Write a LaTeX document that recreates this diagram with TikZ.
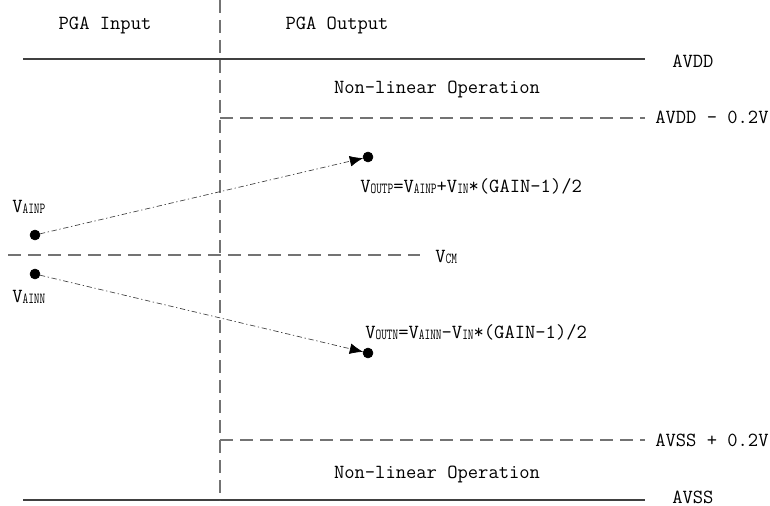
\documentclass[tikz,border=0pt]{standalone}
\usepackage{graphicx}
\usetikzlibrary{arrows.meta}
\newcommand{\lowtext}[1]{\raisebox{-1pt}{\scalebox{0.72}[1]{\fontsize{11.5}{11.5}\selectfont #1}}}

\begin{document}
\begin{tikzpicture}[x=0.75pt,y=-0.75pt,
  dot/.style={draw,circle,minimum size=7.5pt,inner sep=0pt,outer sep=0pt,fill=black},
  rail/.style={draw=black!75,line width=0.8pt},
  guide/.style={draw=black!55,line width=0.8pt,dash pattern=on 10pt off 5pt},
  trace/.style={draw=black!75,line width=0.5pt,dash pattern=on 4pt off 2pt on 1pt off 2pt,-{Latex[length=10pt,width=8pt,black]}},
  lbl/.style={font=\ttfamily\fontsize{15}{15}\selectfont,inner sep=0pt}]
        \useasboundingbox (0,0) rectangle (770,506);
        \coordinate (toplft) at (23,59);
        \coordinate (toprgt) at (645,59);
        \coordinate (botlft) at (23,500);
        \coordinate (botrgt) at (645,500);
        \coordinate (divtop) at (220,0);
        \coordinate (divbot) at (220,500);
        \coordinate (hilft) at (220,118);
        \coordinate (hirgt) at (645,118);
        \coordinate (lolft) at (220,440);
        \coordinate (lorgt) at (645,440);
        \coordinate (cmlft) at (8,255);
        \coordinate (cmrgt) at (420,255);
        \draw[rail] (toplft)--(toprgt);
        \draw[rail] (botlft)--(botrgt);
        \draw[guide] (divtop)--(divbot);
        \draw[guide] (hilft)--(hirgt);
        \draw[guide] (lolft)--(lorgt);
        \draw[guide] (cmlft)--(cmrgt);
        \node[dot] (ainp) at (35,235) {};
        \node[dot] (ainn) at (35,274) {};
        \node[dot] (outp) at (368,157) {};
        \node[dot] (outn) at (368,353) {};
        \draw[trace] (ainp)--(outp);
        \draw[trace] (ainn)--(outn);
        \node[lbl,anchor=base] (inhead) at (105,30) {PGA Input};
        \node[lbl,anchor=base] (outhead) at (337,30) {PGA Output};
        \node[lbl,anchor=base] (nlhigh) at (437,94) {Non-linear Operation};
        \node[lbl,anchor=base] (nllow) at (437,478) {Non-linear Operation};
        \node[lbl,anchor=base west] (avdd) at (672,68) {AVDD};
        \node[lbl,anchor=base west] (avddm) at (655,124) {AVDD - 0.2V};
        \node[lbl,anchor=base west] (avssp) at (655,446) {AVSS + 0.2V};
        \node[lbl,anchor=base west] (avss) at (672,503) {AVSS};
        \node[lbl,anchor=base west] (vcm) at (435,262) {V\lowtext{CM}};
        \node[lbl,anchor=base west] (vainp) at (12,212) {V\lowtext{AINP}};
        \node[lbl,anchor=base west] (vainn) at (12,302) {V\lowtext{AINN}};
        \node[lbl,anchor=base west] (foutp) at (360,192) {V\lowtext{OUTP}=V\lowtext{AINP}+V\lowtext{IN}*(GAIN-1)/2};
        \node[lbl,anchor=base west] (foutn) at (365,338) {V\lowtext{OUTN}=V\lowtext{AINN}-V\lowtext{IN}*(GAIN-1)/2};
      \end{tikzpicture}
\end{document}
